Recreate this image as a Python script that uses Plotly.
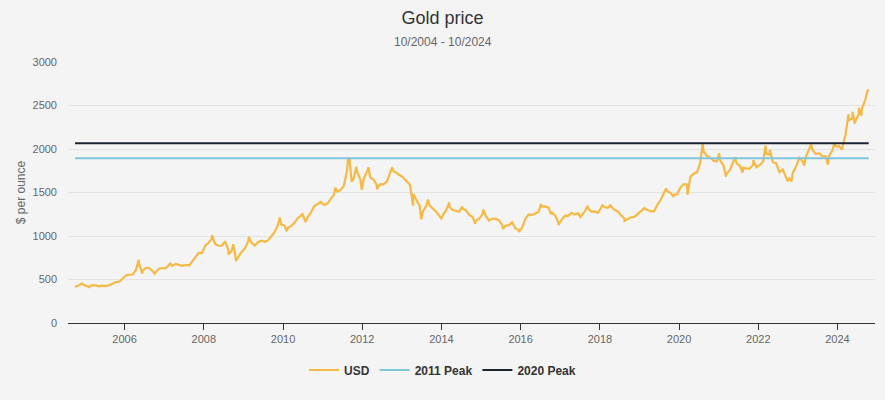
import plotly.graph_objects as go
import pandas as pd

# Monthly gold price estimates (USD / oz), one list per year, Jan..Dec
y2004 = [None, None, None, None, None, None, None, None, None, 420, 439, 442]
y2005 = [424, 423, 434, 429, 422, 430, 424, 437, 456, 470, 476, 510]
y2006 = [549, 555, 557, 610, 676, 596, 634, 632, 599, 585, 627, 629]
y2007 = [631, 665, 655, 680, 668, 656, 666, 666, 712, 754, 806, 803]
y2008 = [889, 922, 968, 909, 888, 890, 939, 839, 830, 806, 760, 816]
y2009 = [858, 943, 924, 890, 928, 945, 934, 949, 996, 1043, 1127, 1134]
y2010 = [1118, 1095, 1113, 1148, 1205, 1232, 1193, 1215, 1270, 1342, 1370, 1391]
y2011 = [1356, 1372, 1424, 1473, 1510, 1529, 1573, 1756, 1772, 1665, 1739, 1652]
y2012 = [1656, 1742, 1674, 1650, 1585, 1596, 1594, 1626, 1744, 1747, 1721, 1688]
y2013 = [1670, 1627, 1593, 1485, 1414, 1343, 1286, 1347, 1349, 1316, 1275, 1225]
y2014 = [1244, 1300, 1336, 1299, 1287, 1279, 1311, 1296, 1239, 1222, 1176, 1200]
y2015 = [1251, 1227, 1178, 1198, 1199, 1181, 1128, 1117, 1125, 1157, 1086, 1068]
y2016 = [1097, 1200, 1246, 1242, 1260, 1276, 1337, 1340, 1326, 1267, 1236, 1152]
y2017 = [1192, 1234, 1231, 1267, 1246, 1260, 1236, 1283, 1315, 1280, 1282, 1265]
y2018 = [1331, 1331, 1325, 1335, 1303, 1282, 1238, 1202, 1198, 1215, 1220, 1250]
y2019 = [1291, 1320, 1300, 1285, 1283, 1359, 1413, 1500, 1511, 1495, 1471, 1480]
y2020 = [1560, 1597, 1592, 1683, 1715, 1732, 1846, 1968, 1921, 1900, 1866, 1858]
y2021 = [1867, 1808, 1718, 1760, 1850, 1834, 1807, 1785, 1775, 1777, 1820, 1790]
y2022 = [1817, 1856, 1947, 1937, 1848, 1836, 1733, 1765, 1681, 1664, 1726, 1798]
y2023 = [1898, 1855, 1913, 2000, 1992, 1942, 1951, 1918, 1916, 1916, 1985, 2030]
y2024 = [2034, 2023, 2160, 2331, 2350, 2326, 2398, 2470, 2571, None, None, None]

years = list(range(2004, 2025))
yearly = [y2004, y2005, y2006, y2007, y2008, y2009, y2010, y2011, y2012, y2013,
          y2014, y2015, y2016, y2017, y2018, y2019, y2020, y2021, y2022, y2023, y2024]

# Notable daily highs / lows
extra_dates = ["2004-10-01", "2004-12-02", "2005-02-08", "2005-07-05", "2006-05-12",
               "2006-06-14", "2006-10-05", "2007-02-26", "2007-08-16", "2008-03-17",
               "2008-08-15", "2008-09-29", "2008-10-24", "2009-02-20", "2009-12-02",
               "2010-02-05", "2010-06-28", "2010-07-28", "2011-04-29", "2011-08-22",
               "2011-09-05", "2011-09-26", "2011-11-08", "2011-12-29", "2012-02-28",
               "2012-05-16", "2012-10-04", "2013-04-15", "2013-06-28", "2013-08-28",
               "2013-12-31", "2014-03-14", "2014-07-10", "2014-11-07", "2015-01-22",
               "2015-07-24", "2015-12-17", "2016-07-06", "2016-10-07", "2016-12-15",
               "2017-07-07", "2017-09-08", "2018-01-25", "2018-04-11", "2018-08-16",
               "2019-09-04", "2019-11-12", "2020-03-19", "2020-08-06", "2021-01-05",
               "2021-03-08", "2021-06-01", "2021-08-09", "2021-11-16", "2022-03-08",
               "2022-04-18", "2022-09-28", "2022-11-03", "2023-02-28", "2023-05-04",
               "2023-10-05", "2023-12-04", "2024-02-14", "2024-04-12", "2024-05-20",
               "2024-06-07", "2024-07-17", "2024-08-07", "2024-10-01", "2024-10-15"]
extra_values = [415, 455, 412, 420, 725,
                567, 565, 690, 655, 1011,
                786, 905, 712, 990, 1212,
                1055, 1256, 1160, 1556, 1877,
                1895, 1623, 1795, 1531, 1790,
                1539, 1790, 1348, 1192, 1420,
                1201, 1385, 1339, 1142, 1302,
                1081, 1049, 1366, 1250, 1126,
                1210, 1346, 1355, 1360, 1174,
                1546, 1450, 1474, 2067, 1950,
                1684, 1905, 1730, 1870, 2039,
                1990, 1630, 1629, 1810, 2051,
                1820, 2070, 1992, 2400, 2427,
                2293, 2470, 2385, 2660, 2684]

peak_2011 = 1895
peak_2020 = 2067
start_date = "2004-10-01"
end_date = "2024-10-15"

# assemble series
dates, vals = [], []
for yr, vs in zip(years, yearly):
    for m, v in enumerate(vs, start=1):
        if v is not None:
            dates.append(pd.Timestamp(year=yr, month=m, day=15))
            vals.append(v)
for d, v in zip(extra_dates, extra_values):
    dates.append(pd.Timestamp(d))
    vals.append(v)
df = pd.DataFrame({"date": dates, "usd": vals}).sort_values("date")

font = "Liberation Sans, Arial, Helvetica, sans-serif"
fig = go.Figure()
fig.add_trace(go.Scatter(x=df["date"], y=df["usd"], mode="lines", name="USD",
                         line=dict(color="#f5b944", width=2.2)))
fig.add_trace(go.Scatter(x=[start_date, end_date], y=[peak_2011, peak_2011], mode="lines",
                         name="2011 Peak", line=dict(color="#7fc6da", width=2)))
fig.add_trace(go.Scatter(x=[start_date, end_date], y=[peak_2020, peak_2020], mode="lines",
                         name="2020 Peak", line=dict(color="#1c2430", width=2)))

fig.update_layout(
    width=885, height=400,
    paper_bgcolor="#f4f4f4", plot_bgcolor="#f4f4f4",
    font=dict(family=font, color="#666666", size=11),
    margin=dict(l=68, r=10, t=62, b=77, autoexpand=False),
    title=dict(text="Gold price", x=0.5, xanchor="center", y=1 - 18 / 400, yanchor="middle",
               font=dict(size=18, color="#333333", family=font)),
    annotations=[dict(text="10/2004 - 10/2024", xref="paper", yref="paper",
                      x=(442.5 - 68) / 807, y=1.0, yshift=20, xanchor="center", yanchor="middle",
                      showarrow=False, font=dict(size=12, color="#666666", family=font))],
    xaxis=dict(type="date", range=["2004-07-28", "2024-12-12"],
               tick0="2006-01-01", dtick="M24", tickformat="%Y",
               showgrid=False, showline=True, linecolor="#333333", linewidth=1,
               ticks="outside", ticklen=6, tickcolor="#333333",
               tickfont=dict(size=11, color="#666666"), zeroline=False),
    yaxis=dict(range=[0, 3000], tickvals=[0, 500, 1000, 1500, 2000, 2500, 3000],
               gridcolor="#e3e3e3", gridwidth=1, zeroline=False, showline=False,
               tickfont=dict(size=11, color="#666666"), ticks="", ticklabelstandoff=10,
               title=dict(text="$ per ounce", font=dict(size=12, color="#666666"), standoff=4)),
    legend=dict(orientation="h", x=0.5, xanchor="center", xref="container",
                y=1 - 370 / 400, yanchor="middle", yref="container",
                font=dict(size=12, color="#333333", family=font, weight="bold"), itemwidth=30,
                bgcolor="rgba(0,0,0,0)"),
    showlegend=True,
)

fig.write_html("out.html", config={"displayModeBar": False},
               post_script="document.body.style.margin='0';")
